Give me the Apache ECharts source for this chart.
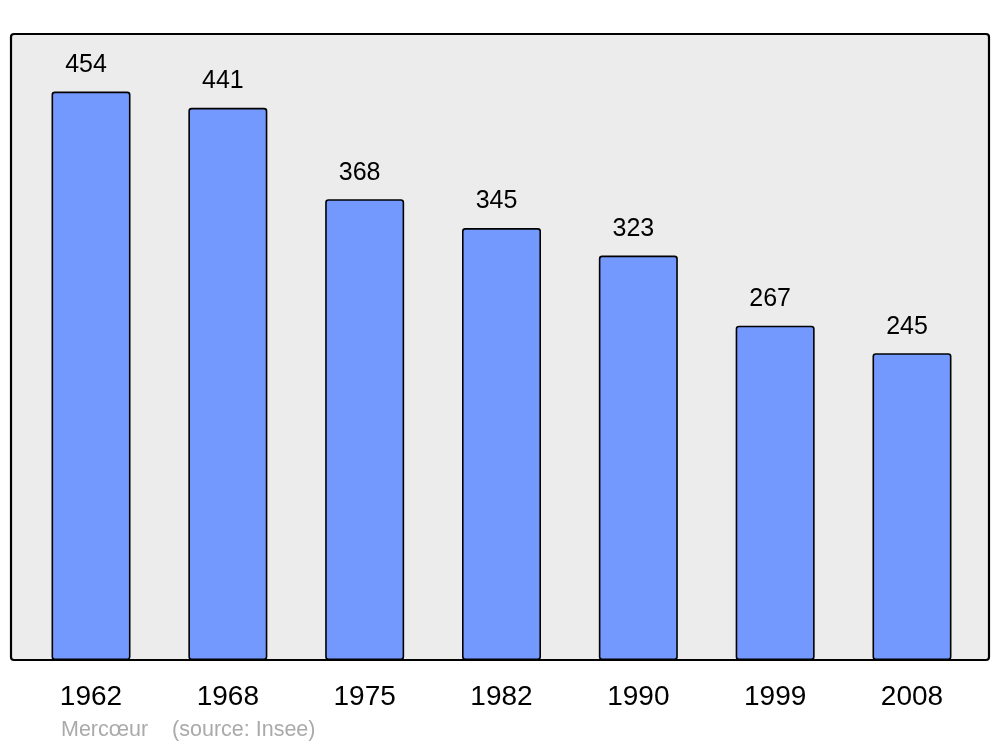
<!DOCTYPE html>
<html>
<head>
<meta charset="utf-8">
<script src="https://cdn.jsdelivr.net/npm/echarts@6/dist/echarts.min.js"></script>
<style>html,body{margin:0;padding:0;background:#fff;}#c{width:1000px;height:747px;}</style>
</head>
<body>
<div id="c"></div>
<script>
const years = ['1962', '1968', '1975', '1982', '1990', '1999', '2008'];
const population = [454, 441, 368, 345, 323, 267, 245];
const footer = 'Mercœur    (source: Insee)';

const chart = echarts.init(document.getElementById('c'), null, {renderer: 'canvas'});
chart.setOption({
  animation: false,
  backgroundColor: '#ffffff',
  textStyle: {fontFamily: '"Liberation Sans", Arial, sans-serif'},
  graphic: [
    {type: 'rect', z: -10, silent: true,
     shape: {x: 11, y: 34, width: 978, height: 626, r: 3},
     style: {fill: '#ececec', stroke: '#000', lineWidth: 2.2}},
    {type: 'text', left: 61, top: 719, z: 10,
     style: {text: footer, fill: '#aaaaaa', fontSize: 21.5, fontFamily: '"Liberation Sans", Arial, sans-serif'}}
  ],
  grid: {left: 22.6, right: 19.6, top: 34, bottom: 87, containLabel: false},
  xAxis: {
    type: 'category', data: years,
    axisLine: {show: false}, axisTick: {show: false},
    axisLabel: {color: '#000', fontSize: 28, margin: 23}
  },
  yAxis: {
    type: 'value', min: 0, max: 500, show: false,
    splitLine: {show: false}
  },
  series: [{
    type: 'bar', data: population, barWidth: 79,
    itemStyle: {color: '#7399ff', borderColor: '#000', borderWidth: 1.6, borderRadius: 2.5},
    label: {show: true, position: 'top', distance: 14, offset: [-5, 0], color: '#000', fontSize: 25}
  }]
});
</script>
</body>
</html>
